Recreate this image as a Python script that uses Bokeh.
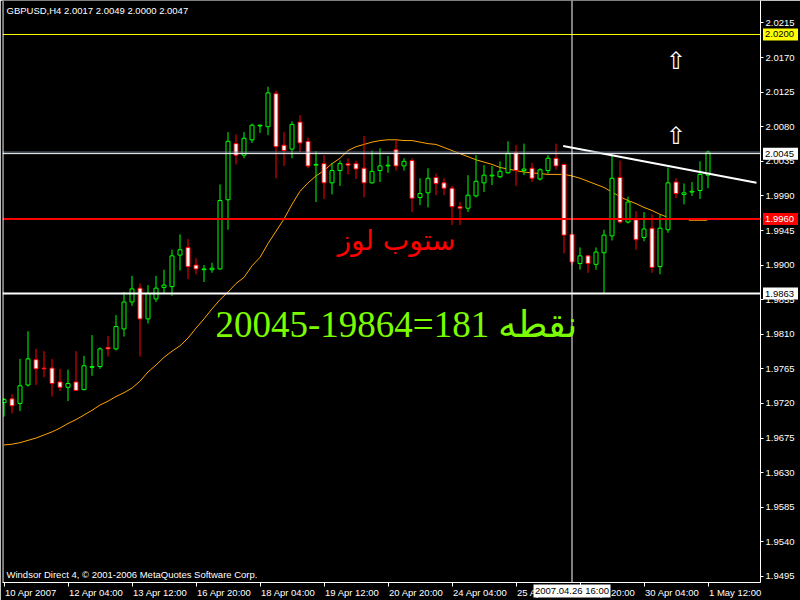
from bokeh.plotting import figure
from bokeh.models import Range1d, FixedTicker, PrintfTickFormatter, Span, Label, ColumnDataSource
from bokeh.embed import file_html
from bokeh.resources import INLINE
from bokeh.core.properties import value

# ---------------- data (GBPUSD, H4) ----------------
opens = [1.9721, 1.9726, 1.9720, 1.9744, 1.9777, 1.9766, 1.9766, 1.9748, 1.9741, 1.9748,
         1.9738, 1.9767, 1.9768, 1.9793, 1.9791, 1.9817, 1.9852, 1.9870, 1.9830, 1.9856,
         1.9871, 1.9872, 1.9913, 1.9923, 1.9900, 1.9894, 1.9894, 1.9895, 1.9985, 2.0058,
         2.0043, 2.0063, 2.0081, 2.0080, 2.0123, 2.0056, 2.0051, 2.0086, 2.0061, 2.0030,
         2.0032, 2.0007, 2.0023, 2.0032, 2.0032, 2.0026, 2.0007, 2.0023, 2.0029, 2.0050,
         2.0029, 2.0036, 1.9988, 1.9994, 2.0014, 2.0007, 2.0000, 1.9976, 1.9974, 1.9990,
         2.0007, 2.0016, 2.0015, 2.0020, 2.0046, 2.0023, 2.0026, 2.0012, 2.0023, 2.0039,
         2.0031, 1.9940, 1.9902, 1.9912, 1.9901, 1.9916, 1.9938, 2.0014, 1.9956, 1.9959,
         1.9936, 1.9948, 1.9898, 1.9946, 2.0008, 1.9992, 1.9995, 1.9997, 2.0017]
highs = [1.9727, 1.9732, 1.9778, 1.9814, 1.9791, 1.9788, 1.9778, 1.9765, 1.9764, 1.9788,
         1.9782, 1.9809, 1.9793, 1.9808, 1.9835, 1.9865, 1.9886, 1.9876, 1.9874, 1.9886,
         1.9894, 1.9920, 1.9940, 1.9934, 1.9909, 1.9900, 1.9903, 2.0005, 2.0073, 2.0070,
         2.0073, 2.0084, 2.0083, 2.0132, 2.0127, 2.0073, 2.0087, 2.0095, 2.0066, 2.0048,
         2.0043, 2.0033, 2.0036, 2.0039, 2.0036, 2.0068, 2.0049, 2.0052, 2.0042, 2.0063,
         2.0039, 2.0039, 2.0013, 2.0026, 2.0019, 2.0013, 2.0003, 1.9982, 2.0017, 2.0043,
         2.0030, 2.0029, 2.0035, 2.0061, 2.0056, 2.0058, 2.0033, 2.0026, 2.0043, 2.0058,
         2.0031, 1.9941, 1.9923, 1.9913, 1.9923, 1.9946, 2.0043, 2.0036, 1.9989, 1.9970,
         1.9969, 1.9966, 1.9965, 2.0027, 2.0013, 2.0006, 2.0008, 2.0035, 2.0049]
lows = [1.9703, 1.9707, 1.9710, 1.9742, 1.9744, 1.9754, 1.9729, 1.9736, 1.9723, 1.9736,
        1.9737, 1.9756, 1.9765, 1.9781, 1.9789, 1.9807, 1.9847, 1.9781, 1.9824, 1.9852,
        1.9863, 1.9860, 1.9893, 1.9882, 1.9888, 1.9878, 1.9890, 1.9894, 1.9946, 2.0031,
        2.0039, 2.0059, 2.0072, 2.0069, 2.0013, 2.0029, 2.0039, 2.0047, 2.0026, 1.9982,
        1.9986, 1.9992, 2.0003, 2.0018, 2.0012, 1.9988, 2.0006, 2.0008, 2.0020, 2.0023,
        2.0023, 1.9969, 1.9978, 1.9975, 1.9991, 1.9991, 1.9952, 1.9952, 1.9969, 1.9988,
        1.9995, 2.0004, 2.0013, 2.0019, 2.0003, 2.0017, 2.0008, 2.0010, 2.0019, 2.0024,
        1.9915, 1.9900, 1.9894, 1.9890, 1.9894, 1.9863, 1.9932, 1.9954, 1.9954, 1.9920,
        1.9931, 1.9890, 1.9888, 1.9942, 1.9987, 1.9979, 1.9990, 1.9986, 2.0000]
closes = [1.9725, 1.9717, 1.9743, 1.9778, 1.9765, 1.9765, 1.9746, 1.9741, 1.9746, 1.9737,
          1.9769, 1.9768, 1.9791, 1.9791, 1.9820, 1.9852, 1.9869, 1.9830, 1.9863, 1.9870,
          1.9874, 1.9912, 1.9920, 1.9898, 1.9895, 1.9895, 1.9896, 1.9984, 2.0061, 2.0043,
          2.0065, 2.0082, 2.0082, 2.0124, 2.0054, 2.0049, 2.0083, 2.0059, 2.0029, 2.0031,
          2.0007, 2.0023, 2.0032, 2.0030, 2.0025, 2.0007, 2.0022, 2.0029, 2.0030, 2.0029,
          2.0035, 1.9987, 1.9993, 2.0013, 2.0006, 2.0000, 1.9976, 1.9974, 1.9991, 2.0009,
          2.0017, 2.0017, 2.0022, 2.0045, 2.0023, 2.0025, 2.0013, 2.0024, 2.0039, 2.0029,
          1.9939, 1.9904, 1.9912, 1.9902, 1.9917, 1.9939, 2.0013, 1.9956, 1.9982, 1.9933,
          1.9947, 1.9897, 1.9948, 2.0007, 1.9993, 1.9994, 1.9996, 2.0018, 2.0047]

ma_values = [1.9666, 1.9667, 1.9669, 1.9672, 1.9675, 1.9679, 1.9683, 1.9688, 1.9694, 1.9699,
             1.9705, 1.9711, 1.9718, 1.9723, 1.9729, 1.9734, 1.9740, 1.9749, 1.9761, 1.9770,
             1.9780, 1.9788, 1.9795, 1.9805, 1.9818, 1.9830, 1.9843, 1.9855, 1.9865, 1.9876,
             1.9884, 1.9899, 1.9910, 1.9928, 1.9944, 1.9960, 1.9979, 1.9996, 2.0007, 2.0016,
             2.0023, 2.0032, 2.0039, 2.0049, 2.0054, 2.0057, 2.0060, 2.0062, 2.0063, 2.0063,
             2.0062, 2.0062, 2.0060, 2.0058, 2.0057, 2.0053, 2.0049, 2.0045, 2.0041, 2.0037,
             2.0034, 2.0031, 2.0027, 2.0025, 2.0023, 2.0021, 2.0020, 2.0019, 2.0018, 2.0018,
             2.0018, 2.0016, 2.0013, 2.0009, 2.0005, 2.0001, 1.9995, 1.9989, 1.9984, 1.9980,
             1.9975, 1.9971, 1.9966, 1.9962]

x_tick_labels = ["10 Apr 2007", "12 Apr 04:00", "13 Apr 12:00", "16 Apr 20:00",
                 "18 Apr 04:00", "19 Apr 12:00", "20 Apr 20:00", "24 Apr 04:00",
                 "25 Apr 12:00", "26 Apr 20:00", "30 Apr 04:00", "1 May 12:00"]
y_tick_labels = ["2.0215", "2.0170", "2.0125", "2.0080", "2.0035", "1.9990", "1.9945",
                 "1.9900", "1.9855", "1.9810", "1.9765", "1.9720", "1.9675", "1.9630",
                 "1.9585", "1.9540", "1.9495"]

level_prices = [2.0200, 2.0047, 2.0045, 1.9960, 1.9863]
boxed_prices = [2.0200, 2.0045, 1.9960, 1.9863]
trend_x = [69.9, 94.06]
trend_y = [2.0055, 2.0007]
dash_x = [85.6, 87.9]
dash_y = [1.9959, 1.9959]
arrow_x = [84, 84]
arrow_y = [2.0166, 2.0068]
cursor_bar = 71
cursor_label = "2007.04.26 16:00"
title_text = "GBPUSD,H4  2.0017 2.0049 2.0000 2.0047"
footer_text = "Windsor Direct 4, \u00a9 2001-2006 MetaQuotes Software Corp."
stop_text = "ستوب لوز"
points_text = "20045-19864=181 نقطه"

# ---------------- figure ----------------
FONT = "Liberation Sans"
FS = "9.5px"
X0, X1 = -0.1875, 94.5625
Y0, Y1 = 1.948708, 2.024422
PX_PER_PRICE = 7700.0
PX_PER_BAR = 8.0

p = figure(width=800, height=600, output_backend="svg", toolbar_location=None,
           x_range=Range1d(X0, X1), y_range=Range1d(Y0, Y1),
           y_axis_location="right", background_fill_color="black", border_fill_color="black",
           min_border_left=2, min_border_right=40, min_border_top=0, min_border_bottom=17,
           outline_line_color=None)
p.grid.visible = False

n = len(opens)
idx = list(range(n))
bull = [c >= o for o, c in zip(opens, closes)]
src = ColumnDataSource(dict(
    x=idx, h=highs, l=lows,
    top=[max(o, c) for o, c in zip(opens, closes)],
    bottom=[min(o, c) for o, c in zip(opens, closes)],
    color=["#00FF00" if b else "#FF0000" for b in bull],
    fill=["black" if b else "white" for b in bull],
))

# horizontal levels
level_styles = [("#FFFF00", 1), ("#778899", 1), ("white", 1), ("#FF0000", 2), ("white", 2)]
for price, (col, w) in zip(level_prices, level_styles):
    p.add_layout(Span(location=price, dimension="width", line_color=col, line_width=w))
p.add_layout(Span(location=X0 + 0.0625, dimension="height", line_color="white", line_width=1))
p.add_layout(Span(location=cursor_bar, dimension="height", line_color="white", line_width=1))

p.line(idx[:len(ma_values)], ma_values, line_color="#FFA500", line_width=1)
p.line(dash_x, dash_y, line_color="#FFA500", line_width=2)

p.segment(x0="x", y0="l", x1="x", y1="h", line_color="color", line_width=1, source=src)
p.vbar(x="x", width=0.5, top="top", bottom="bottom", fill_color="fill",
       line_color="color", line_width=1, source=src)

p.line(trend_x, trend_y, line_color="white", line_width=2)
p.text(x=arrow_x, y=arrow_y, text=["\u21e7", "\u21e7"], text_color="white",
       text_font=value("DejaVu Sans"), text_font_size="24px",
       text_align="center", text_baseline="middle")

# ---------------- axes ----------------
CW = {" ": 0.278, ":": 0.278, "A": 0.667, "p": 0.556, "r": 0.333, "M": 0.833, "a": 0.556, "y": 0.5}
def text_width(s, size=9.5):
    return sum(CW.get(ch, 0.556) for ch in s) * size

tick_pos = [8 * i for i in range(len(x_tick_labels))]
label_pos = [round(t + (1 + text_width(s) / 2) / PX_PER_BAR, 3) for t, s in zip(tick_pos, x_tick_labels)]
ax = p.xaxis[0]
ax.ticker = FixedTicker(ticks=label_pos, minor_ticks=tick_pos)
ax.major_label_overrides = {lp: s for lp, s in zip(label_pos, x_tick_labels)}
ax.axis_line_color = "white"
ax.major_tick_line_color = None
ax.major_tick_out = 0
ax.major_tick_in = 0
ax.minor_tick_line_color = "white"
ax.minor_tick_out = 4
ax.minor_tick_in = 0
ax.major_label_standoff = 0
ax.major_label_text_color = "white"
ax.major_label_text_font = FONT
ax.major_label_text_font_size = FS

ay = p.yaxis[0]
ay.ticker = FixedTicker(ticks=[float(s) for s in y_tick_labels])
ay.formatter = PrintfTickFormatter(format="%.4f")
ay.axis_line_color = "white"
ay.major_tick_line_color = "white"
ay.major_tick_out = 3
ay.major_tick_in = 0
ay.minor_tick_line_color = None
ay.major_label_standoff = 2
ay.major_label_text_color = "white"
ay.major_label_text_font = FONT
ay.major_label_text_font_size = FS

# ---------------- price / time boxes drawn over the axes ----------------
box_bg = ["#FFFF00", "white", "#FF0000", "white"]
box_fg = ["black", "black", "white", "black"]
box_left = X1 + 3 / PX_PER_BAR
box_src = ColumnDataSource(dict(
    xc=[box_left + 17 / PX_PER_BAR] * len(boxed_prices),
    xt=[box_left + 1.5 / PX_PER_BAR] * len(boxed_prices),
    y=boxed_prices, bg=box_bg, fg=box_fg,
    t=[f"{v:.4f}" for v in boxed_prices]))
p.rect(x="xc", y="y", width=35, height=12, width_units="screen", height_units="screen",
       fill_color="bg", line_color=None, source=box_src, level="overlay")
p.text(x="xt", y="y", text="t", text_color="fg", text_font=value(FONT), text_font_size=FS,
       text_align="left", text_baseline="middle", source=box_src, level="overlay")

time_y = Y0 - 8.5 / PX_PER_PRICE
p.rect(x=[cursor_bar], y=[time_y], width=77, height=13, width_units="screen",
       height_units="screen", fill_color="white", line_color=None, level="overlay")
p.text(x=[cursor_bar], y=[time_y], text=[cursor_label], text_color="black",
       text_font=value(FONT), text_font_size=FS, text_align="center",
       text_baseline="middle", level="overlay")

# ---------------- texts inside the chart ----------------
p.add_layout(Label(x=0.3125, y=2.02312, text=title_text, text_color="white",
                   text_font=FONT, text_font_size=FS, text_baseline="middle"))
p.add_layout(Label(x=0.3125, y=1.94975, text=footer_text, text_color="white",
                   text_font=FONT, text_font_size=FS, text_baseline="middle"))
p.add_layout(Label(x=49.06, y=1.99325, text=stop_text, text_color="#FF0000",
                   text_font="DejaVu Sans", text_font_size="28px",
                   text_align="center", text_baseline="middle"))
p.add_layout(Label(x=26.44, y=1.98225, text=points_text, text_color="#7CFC00",
                   text_font="Liberation Serif", text_font_size="37px",
                   text_align="left", text_baseline="middle"))

open("out.html", "w").write(file_html(p, INLINE))
